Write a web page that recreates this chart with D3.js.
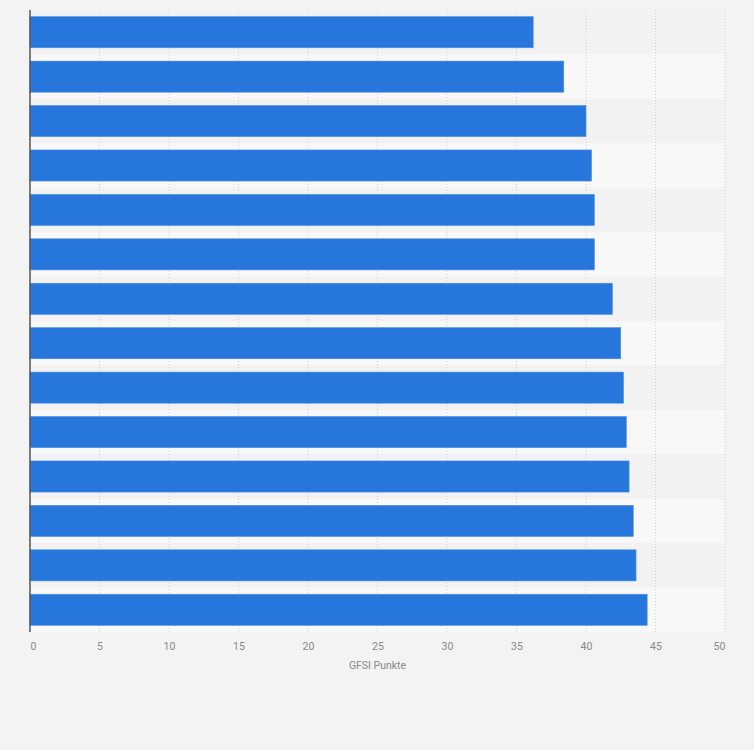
<!DOCTYPE html>
<html>
<head>
<meta charset="utf-8">
<script src="https://cdn.jsdelivr.net/npm/d3@7"></script>
<style>
  body { margin: 0; background: #f3f3f3; }
  .chart text { font-family: "Roboto", "Liberation Sans", sans-serif; }
</style>
</head>
<body>
<div class="chart"></div>
<script>
// GFSI points per country (no category labels shown in the picture)
var rows = ["1", "2", "3", "4", "5", "6", "7", "8", "9", "10", "11", "12", "13", "14"];
var points = [36.2, 38.4, 40.0, 40.4, 40.6, 40.6, 41.9, 42.5, 42.7, 42.9, 43.1, 43.4, 43.6, 44.4];
var xTicks = [0, 5, 10, 15, 20, 25, 30, 35, 40, 45, 50];
var xTitle = "GFSI Punkte";

var width = 754, height = 750;
var margin = { top: 10, right: 29, bottom: 118, left: 30 };
var innerW = width - margin.left - margin.right,
    innerH = height - margin.top - margin.bottom;

var svg = d3.select(".chart").append("svg")
    .attr("width", width)
    .attr("height", height);

svg.append("rect")
    .attr("width", width).attr("height", height)
    .attr("fill", "#f3f3f3");

var g = svg.append("g")
    .attr("transform", `translate(${margin.left},${margin.top})`);

var x = d3.scaleLinear().domain([0, 50]).range([0, innerW]);
var y = d3.scaleBand().domain(rows).range([0, innerH])
    .paddingInner(0.3).paddingOuter(0.15);

// alternating row stripes
g.selectAll(".stripe")
    .data(rows)
    .enter().append("rect")
    .attr("class", "stripe")
    .attr("x", 0)
    .attr("y", (d) => y(d) - y.step() * y.paddingInner() / 2)
    .attr("width", x(50))
    .attr("height", y.step())
    .attr("fill", (d, i) => i % 2 ? "#f8f8f8" : "#f2f2f2");

// dotted vertical grid
g.selectAll(".grid")
    .data(xTicks.slice(1))
    .enter().append("line")
    .attr("class", "grid")
    .attr("x1", (d) => x(d)).attr("x2", (d) => x(d))
    .attr("y1", 0).attr("y2", innerH)
    .attr("stroke", "#d2d2d2")
    .attr("stroke-width", 1)
    .attr("stroke-dasharray", "1,2");

// bars
g.selectAll(".bar")
    .data(points)
    .enter().append("rect")
    .attr("class", "bar")
    .attr("x", 0)
    .attr("y", (d, i) => y(rows[i]))
    .attr("width", (d) => x(d))
    .attr("height", y.bandwidth())
    .attr("fill", "#2776db")
    .attr("stroke", "#4d8fe6")
    .attr("stroke-width", 0.6);

// left axis line
g.append("line")
    .attr("x1", 0).attr("x2", 0)
    .attr("y1", 0).attr("y2", innerH)
    .attr("stroke", "#555")
    .attr("stroke-width", 1.5);

// x axis labels
var xAxis = g.append("g")
    .attr("transform", `translate(0,${innerH})`)
    .call(d3.axisBottom(x).tickValues(xTicks).tickSize(0).tickPadding(11));
xAxis.select(".domain").remove();
xAxis.selectAll("text")
    .attr("fill", "#888")
    .attr("font-size", "10.5px")
    .attr("dx", (d) => d === 0 ? 3 : (d === 50 ? -6 : 0));

g.append("text")
    .attr("x", innerW / 2)
    .attr("y", innerH + 37)
    .attr("text-anchor", "middle")
    .attr("fill", "#888")
    .attr("font-size", "10.5px")
    .text(xTitle);
</script>
</body>
</html>
